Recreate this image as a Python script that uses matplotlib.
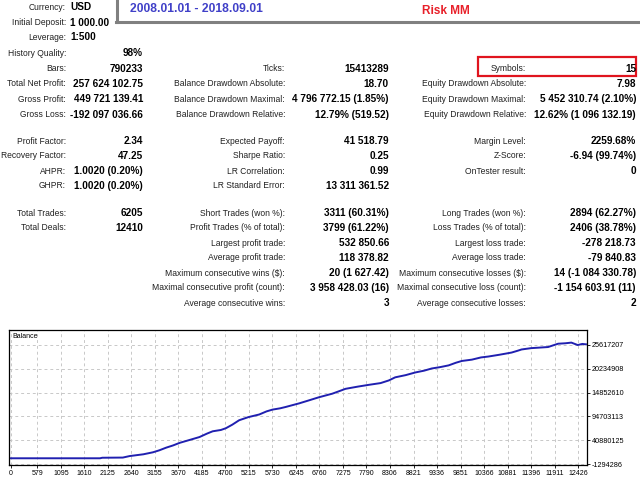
import matplotlib.pyplot as plt
from matplotlib.lines import Line2D
from matplotlib.patches import Rectangle

# header
period_text = '2008.01.01 - 2018.09.01'
title_text = 'Risk MM'

info_labels = ['Currency:', 'Initial Deposit:', 'Leverage:']
info_values = ['USD', '1 000.00', '1:500']

# report columns, one entry per row (None = empty row); rows start at "History Quality"
col1_labels = ['History Quality:', 'Bars:', 'Total Net Profit:', 'Gross Profit:', 'Gross Loss:',
               'Profit Factor:', 'Recovery Factor:', 'AHPR:', 'GHPR:',
               'Total Trades:', 'Total Deals:']
col1_values = ['98%', '790233', '257 624 102.75', '449 721 139.41', '-192 097 036.66',
               '2.34', '47.25', '1.0020 (0.20%)', '1.0020 (0.20%)',
               '6205', '12410']

col2_labels = [None, 'Ticks:', 'Balance Drawdown Absolute:', 'Balance Drawdown Maximal:',
               'Balance Drawdown Relative:', 'Expected Payoff:', 'Sharpe Ratio:',
               'LR Correlation:', 'LR Standard Error:', 'Short Trades (won %):',
               'Profit Trades (% of total):', 'Largest profit trade:', 'Average profit trade:',
               'Maximum consecutive wins ($):', 'Maximal consecutive profit (count):',
               'Average consecutive wins:']
col2_values = [None, '15413289', '18.70', '4 796 772.15 (1.85%)', '12.79% (519.52)',
               '41 518.79', '0.25', '0.99', '13 311 361.52', '3311 (60.31%)',
               '3799 (61.22%)', '532 850.66', '118 378.82', '20 (1 627.42)',
               '3 958 428.03 (16)', '3']

col3_labels = [None, 'Symbols:', 'Equity Drawdown Absolute:', 'Equity Drawdown Maximal:',
               'Equity Drawdown Relative:', 'Margin Level:', 'Z-Score:', 'OnTester result:',
               None, 'Long Trades (won %):', 'Loss Trades (% of total):', 'Largest loss trade:',
               'Average loss trade:', 'Maximum consecutive losses ($):',
               'Maximal consecutive loss (count):', 'Average consecutive losses:']
col3_values = [None, '15', '7.98', '5 452 310.74 (2.10%)', '12.62% (1 096 132.19)',
               '2259.68%', '-6.94 (99.74%)', '0', None, '2894 (62.27%)', '2406 (38.78%)',
               '-278 218.73', '-79 840.83', '14 (-1 084 330.78)', '-1 154 603.91 (11)', '2']

# balance curve (deal number, balance)
balance_x = [0, 1950, 2000, 2450, 2600, 2900, 3110, 3250, 3400, 3550, 3700, 3900, 4130,
             4300, 4420, 4600, 4710, 4850, 5000, 5200, 5440, 5600, 5730, 5900, 6020, 6200,
             6310, 6500, 6750, 7040, 7200, 7330, 7600, 7840, 8100, 8280, 8420, 8650, 8860,
             9050, 9220, 9400, 9590, 9750, 9880, 10100, 10300, 10460, 10700, 10970, 11100,
             11190, 11400, 11550, 11770, 11990, 12150, 12280, 12420, 12520, 12600]
balance_y = [1000, 1000, 1.2e6, 1.6e6, 5.0e6, 9.0e6, 13.5e6, 18e6, 24e6, 29e6, 35e6, 41e6,
             48e6, 56e6, 61e6, 64e6, 68e6, 76e6, 86e6, 93e6, 99e6, 106e6, 110e6, 113e6,
             116e6, 121e6, 124e6, 130e6, 138e6, 146e6, 152e6, 157e6, 162e6, 166e6, 170e6,
             176e6, 183e6, 188e6, 194e6, 198e6, 203e6, 206e6, 210e6, 216e6, 220e6, 223e6,
             228e6, 230e6, 234e6, 239e6, 243e6, 246e6, 249e6, 250e6, 251.5e6, 259e6, 260e6,
             261.5e6, 256e6, 258.5e6, 257.6e6]

xticks = [0, 579, 1095, 1610, 2125, 2640, 3155, 3670, 4185, 4700, 5215, 5730, 6245, 6760,
          7275, 7790, 8306, 8821, 9336, 9851, 10366, 10881, 11396, 11911, 12426]
yticks = [-12942862, 40880125, 94703113, 148526100, 202349088, 256172075]
ytick_labels = ['-1294286', '40880125', '94703113', '14852610', '20234908', '25617207']

W, H = 640, 480
FONT = ['Liberation Sans', 'DejaVu Sans']


def fx(x):
    return x / W


def fy(y):
    return 1 - y / H


fig = plt.figure(figsize=(6.4, 4.8), dpi=100)
fig.patch.set_facecolor('white')

# header frame and titles
fig.add_artist(Line2D([fx(117), fx(117)], [fy(0), fy(22)], color='#808080', lw=2.2))
fig.add_artist(Line2D([fx(116), fx(640)], [fy(22), fy(22)], color='#808080', lw=2.2))
fig.text(fx(130), fy(9.5), period_text, color='#4040c8', fontsize=8.7, fontweight='bold',
         family=FONT, ha='left', va='center')
fig.text(fx(422), fy(10.5), title_text, color='#e8202a', fontsize=8.5, fontweight='bold',
         family=FONT, ha='left', va='center')

row_y = [7.5, 22.5, 37, 53, 68.5, 84, 99.5, 114.5, 141, 156, 171, 186, 213, 228,
         243, 258, 273, 288, 303]


def label(x, y, s):
    fig.text(fx(x), fy(y), s, fontsize=6.15, family=FONT, color='#202020',
             ha='right', va='center')


def value(x, y, s, ha='right'):
    fig.text(fx(x), fy(y), s, fontsize=7.2, family=FONT, fontweight='bold', color='black',
             ha=ha, va='center')


for i, (lab, val) in enumerate(zip(info_labels, info_values)):
    label(66, row_y[i], lab)
    value(70, row_y[i], val, ha='left')

for i, (lab, val) in enumerate(zip(col1_labels, col1_values)):
    label(66, row_y[3 + i], lab)
    value(143, row_y[3 + i], val)

for col_labels, col_values, lx, vx in [(col2_labels, col2_values, 285, 389),
                                       (col3_labels, col3_values, 526, 636)]:
    for i, (lab, val) in enumerate(zip(col_labels, col_values)):
        if lab is None:
            continue
        label(lx, row_y[3 + i], lab)
        value(vx, row_y[3 + i], val)

# red box around Symbols
fig.add_artist(Rectangle((fx(478), fy(76)), fx(636) - fx(478), fy(57) - fy(76),
                         fill=False, edgecolor='#e0141e', lw=1.6))

# balance chart
ax = fig.add_axes([fx(9), fy(465), fx(587) - fx(9), fy(330) - fy(465)])
ax.plot(balance_x, balance_y, color='#2020b0', lw=1.4)
ax.set_xlim(-44, 12623)
ax.set_ylim(-15.2e6, 290e6)
ax.set_xticks(xticks)
ax.set_xticklabels([str(t) for t in xticks], family=FONT, fontsize=5)
ax.set_yticks(yticks)
ax.set_yticklabels(ytick_labels, family=FONT, fontsize=5.2)
ax.yaxis.tick_right()
ax.tick_params(length=2, width=0.6, pad=1.5, colors='black')
ax.grid(True, color='#c8c8c8', lw=0.7, linestyle=(0, (3, 3)))
for sp in ax.spines.values():
    sp.set_linewidth(0.9)
    sp.set_color('black')
ax.text(0.005, 0.975, 'Balance', transform=ax.transAxes, fontsize=5, family=FONT,
        ha='left', va='top')

fig.savefig('out.png', dpi=100)
